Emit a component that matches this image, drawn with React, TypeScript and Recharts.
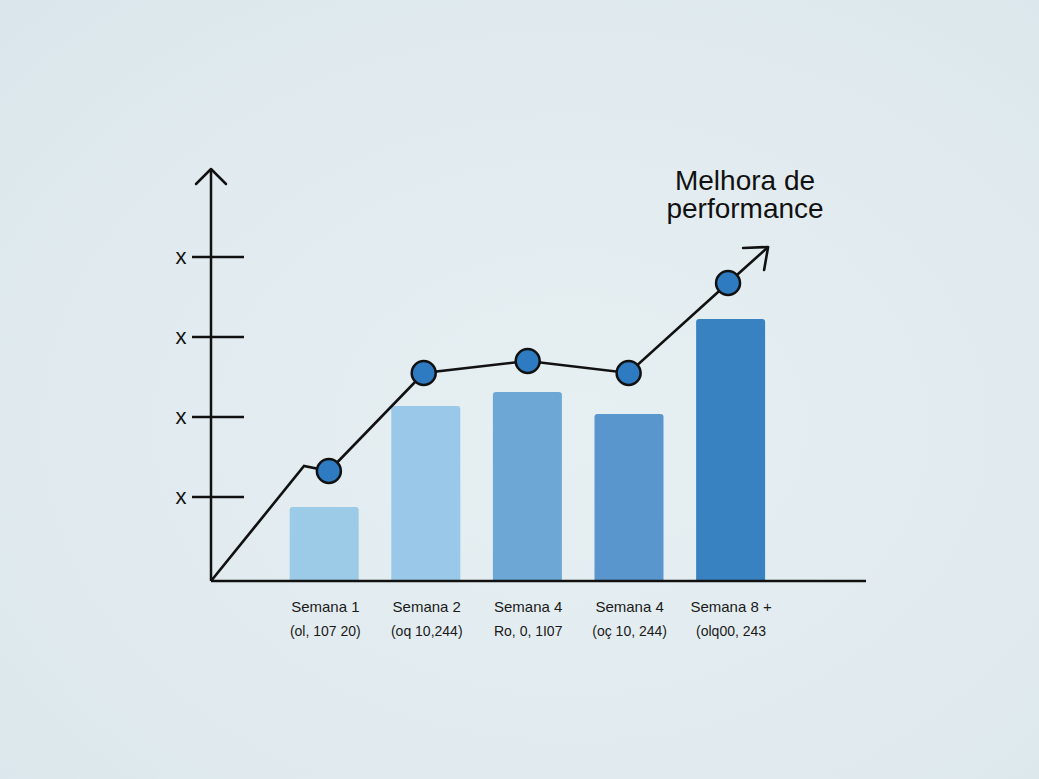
import { ComposedChart, Bar, Line, XAxis, YAxis, Cell, ReferenceDot } from "recharts";

// bars: one per week
const weeks = [1, 2, 3, 4, 5];
const barValues = [74, 175, 189, 167, 262];
const barColors = ["#9CCBE8", "#99C8E9", "#6DA7D6", "#5996CD", "#3982C2"];
const weekLabels = ["Semana 1", "Semana 2", "Semana 4", "Semana 4", "Semana 8 +"];
const weekSubLabels = ["(ol, 107 20)", "(oq 10,244)", "Ro, 0, 1I07", "(oç 10, 244)", "(olq00, 243"];

// performance line: starts at origin, flat step, then dots, ending in an arrow
const lineX = [-0.127, 0.79, 1.035, 1.97, 2.995, 3.99, 4.97, 5.365];
const lineY = [0, 115, 110, 208, 220, 208, 298, 334];
const lineDots = [false, false, true, true, true, true, true, false];

const yTicks = [84, 164, 244, 324];
const yMax = 412;
const xDomain: [number, number] = [-0.127, 6.33];

const barData = weeks.map((x, i) => ({ week: weekLabels[i] + i, x, value: barValues[i] }));
const lineData = lineX.map((x, i) => ({ x, perf: lineY[i], dot: lineDots[i] }));

const INK = "#111111";
const FONT = "'Liberation Sans', Arial, sans-serif";

function YTick(props: any) {
  const { x, y } = props;
  return (
    <g>
      <line x1={x - 19} x2={x + 33} y1={y} y2={y} stroke={INK} strokeWidth={2.5} />
      <text x={x - 30} y={y + 7} textAnchor="middle" fontSize={22} fill={INK} fontFamily={FONT}>
        x
      </text>
    </g>
  );
}

function XTick(props: any) {
  const { x, y, payload } = props;
  const i = weeks.indexOf(payload.value);
  if (i < 0) return null;
  return (
    <g>
      <text x={x} y={y + 31} textAnchor="middle" fontSize={15} fill="#1a1a1a" fontFamily={FONT}>
        {weekLabels[i]}
      </text>
      <text x={x} y={y + 55} textAnchor="middle" fontSize={14} fill="#1a1a1a" fontFamily={FONT}>
        {weekSubLabels[i]}
      </text>
    </g>
  );
}

function LineDot(props: any) {
  const { cx, cy, payload, index } = props;
  if (cx == null || cy == null) return null;
  if (index === lineData.length - 1) {
    return (
      <path
        key={`arrow-${index}`}
        d={`M${cx - 25},${cy + 1} L${cx},${cy} L${cx - 4},${cy + 23}`}
        fill="none"
        stroke={INK}
        strokeWidth={2.6}
        strokeLinecap="round"
        strokeLinejoin="round"
      />
    );
  }
  if (!payload.dot) return <g key={`d-${index}`} />;
  return <circle key={`d-${index}`} cx={cx} cy={cy} r={12} fill="#2E7BC2" stroke={INK} strokeWidth={2.5} />;
}

function AxisArrow(props: any) {
  const { cx, cy } = props;
  return (
    <path
      d={`M${cx - 15},${cy + 15} L${cx},${cy} L${cx + 15},${cy + 15}`}
      fill="none"
      stroke={INK}
      strokeWidth={2.5}
      strokeLinecap="round"
      strokeLinejoin="round"
    />
  );
}

export default function App() {
  return (
    <div
      style={{
        position: "absolute",
        left: 0,
        top: 0,
        width: 1039,
        height: 779,
        background: "radial-gradient(ellipse at 55% 55%, #E6EFF2 0%, #E1EBEF 60%, #DAE6EB 100%)",
        fontFamily: FONT,
      }}
    >
      <ComposedChart
        width={1039}
        height={779}
        data={barData}
        margin={{ top: 169, right: 173, bottom: 138, left: 151 }}
      >
        {/* numeric axis for the line and the visible labels */}
        <XAxis
          xAxisId="num"
          dataKey="x"
          type="number"
          domain={xDomain}
          allowDataOverflow
          ticks={weeks}
          height={60}
          tickSize={0}
          tickMargin={0}
          tickLine={false}
          axisLine={{ stroke: INK, strokeWidth: 2.5 }}
          tick={<XTick />}
          interval={0}
        />
        {/* hidden band axis that places the bars */}
        <XAxis
          xAxisId="cat"
          dataKey="week"
          type="category"
          hide
          height={0}
          padding={{ left: 62.7, right: 84.3 }}
        />
        <YAxis
          type="number"
          domain={[0, yMax]}
          allowDataOverflow
          ticks={yTicks}
          width={60}
          tickSize={0}
          tickMargin={0}
          tickLine={false}
          axisLine={{ stroke: INK, strokeWidth: 2.5 }}
          tick={<YTick />}
          interval={0}
        />
        <Bar xAxisId="cat" dataKey="value" barSize={69} radius={[3, 3, 0, 0]} isAnimationActive={false}>
          {barData.map((_, i) => (
            <Cell key={i} fill={barColors[i]} />
          ))}
        </Bar>
        <Line
          xAxisId="num"
          data={lineData}
          dataKey="perf"
          type="linear"
          stroke={INK}
          strokeWidth={2.6}
          dot={<LineDot />}
          activeDot={false}
          isAnimationActive={false}
        />
        <ReferenceDot xAxisId="num" x={xDomain[0]} y={yMax} r={0} ifOverflow="visible" shape={<AxisArrow />} />
      </ComposedChart>
      <div
        style={{
          position: "absolute",
          left: 645,
          top: 167,
          width: 200,
          textAlign: "center",
          fontSize: 28,
          lineHeight: "28px",
          color: INK,
        }}
      >
        Melhora de
        <br />
        performance
      </div>
    </div>
  );
}
